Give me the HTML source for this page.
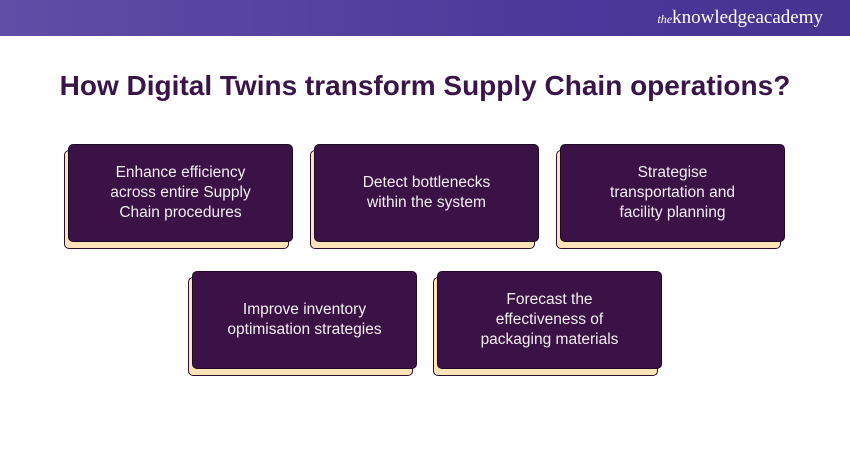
<!DOCTYPE html>
<html><head><style>
body{margin:0;width:850px;height:450px;background:#fff;position:relative;overflow:hidden;font-family:"Liberation Sans",sans-serif}
.hdr{position:absolute;left:0;top:0;width:850px;height:36px;background:linear-gradient(90deg,#5f4ea6,#4a389a 70%,#45338f)}
.logo{position:absolute;right:27px;top:7px;color:#fff;font-family:"Liberation Serif",serif;font-size:19px}
.logo i{font-size:12px}
h1{position:absolute;top:70px;left:0;width:850px;text-align:center;margin:0;font-size:28px;font-weight:bold;color:#3a1548}
.b{position:absolute;width:225px;height:98px}
.b .s{position:absolute;left:-4px;top:6px;width:223px;height:97px;background:#fde3b8;border:1.5px solid #2a1030;border-radius:5px}
.b .f{position:absolute;left:0;top:0;width:225px;height:98px;background:#3b1245;border:1.5px solid #1e0a24;border-radius:5px;box-sizing:border-box;display:flex;align-items:center;justify-content:center;text-align:center;color:#f2eef4;font-size:15.5px;line-height:20px;padding:0 10px;white-space:nowrap}
</style></head><body>
<div class="hdr"><div class="logo"><i>the</i>knowledgeacademy</div></div>
<h1>How Digital Twins transform Supply Chain operations?</h1>
<div class="b" style="left:68px;top:144px"><div class="s"></div><div class="f">Enhance efficiency<br>across entire Supply<br>Chain procedures</div></div>
<div class="b" style="left:314px;top:144px"><div class="s"></div><div class="f">Detect bottlenecks<br>within the system</div></div>
<div class="b" style="left:560px;top:144px"><div class="s"></div><div class="f">Strategise<br>transportation and<br>facility planning</div></div>
<div class="b" style="left:192px;top:271px"><div class="s"></div><div class="f">Improve inventory<br>optimisation strategies</div></div>
<div class="b" style="left:437px;top:271px"><div class="s"></div><div class="f">Forecast the<br>effectiveness of<br>packaging materials</div></div>
</body></html>
